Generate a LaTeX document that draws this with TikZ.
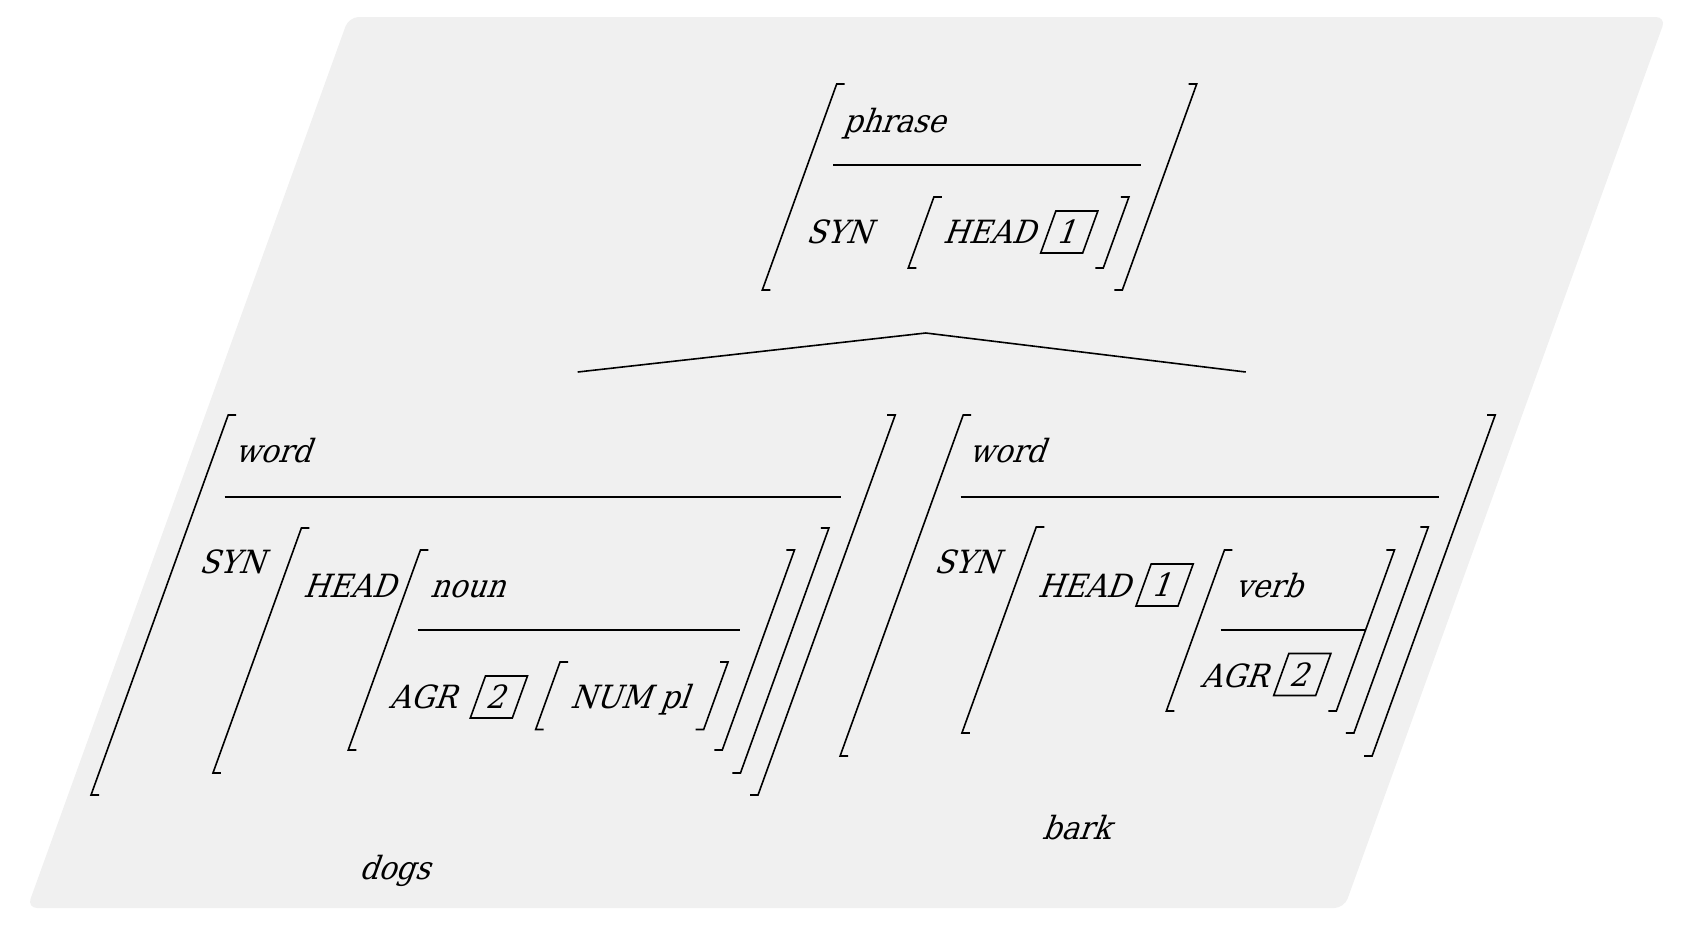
\documentclass[tikz,border=0pt]{standalone}
\usepackage{fontspec}
\setmainfont{DejaVu Serif}[FakeStretch=0.92]
\definecolor{bggray}{HTML}{F0F0F0}
\newcommand\avmfont{\fontsize{16pt}{19pt}\selectfont}
\newcommand\avmL[3]{\draw[brk] ({#1+8},#2) -- (#1,#2) -- (#1,#3) -- ({#1+8},#3);}
\newcommand\avmR[3]{\draw[brk] ({#1-8},#2) -- (#1,#2) -- (#1,#3) -- ({#1-8},#3);}
\tikzset{
  brk/.style={line width=0.8pt},
  rule/.style={line width=0.8pt},
  lbl/.style={inner sep=0pt, anchor=base west, font=\avmfont},
  leaf/.style={inner sep=0pt, anchor=base, font=\avmfont},
  tagbox/.style={draw, line width=0.8pt, minimum width=21pt, minimum height=21pt, inner sep=0pt, font=\avmfont},
}
\begin{document}
\begin{tikzpicture}[x=0.5pt,y=-0.5pt]
\useasboundingbox (0,0) rectangle (1690,927);
\begin{scope}[xslant=0.361, every node/.append style={transform shape}]
% background
\fill[bggray, rounded corners=5pt] (355,17) rectangle (1672,908);

% ---- top: phrase ----
\avmL{867}{84}{290}
\avmR{1227}{84}{290}
\node[lbl] (phrase) at (890,132) {phrase};
\draw[rule] (893,165) -- (1201,165);
\node[lbl] (synP) at (893,243) {SYN};
\avmL{1005}{197}{268}
\avmR{1200}{197}{268}
\node[lbl] (headP) at (1030,243) {HEAD};
\node[tagbox] (tagP1) at (1153,232) {1};

% ---- tree ----
\coordinate (apex) at (1046,333);
\coordinate (lroot) at (712,372);
\coordinate (rroot) at (1380,372);
\draw[rule] (lroot) -- (apex) -- (rroot);

% ---- left word ----
\avmL{378}{415}{795}
\avmR{1045}{415}{795}
\node[lbl] (wordL) at (401,462) {word};
\draw[rule] (404,497) -- (1020,497);
\node[lbl] (synL) at (405,573) {SYN};
\avmL{492}{528}{773}
\avmR{1019.5}{528}{773}
\node[lbl] (headL) at (518,597) {HEAD};
\avmL{619}{550}{750}
\avmR{993}{550}{750}
\node[lbl] (noun) at (645,597) {noun};
\draw[rule] (645,630) -- (967,630);
\node[lbl] (agrL) at (644,708) {AGR};
\node[tagbox] (tagL2) at (750.5,697) {2};
\avmL{799}{662}{729.5}
\avmR{967}{662}{729.5}
\node[lbl] (num) at (825,708) {NUM pl};
\node[leaf] (dogs) at (711.5,879) {dogs};

% ---- right word ----
\avmL{1113}{415}{756}
\avmR{1645}{415}{756}
\node[lbl] (wordR) at (1135,462) {word};
\draw[rule] (1140,497) -- (1618.5,497);
\node[lbl] (synR) at (1140,573) {SYN};
\avmL{1226.5}{527}{733}
\avmR{1618.5}{527}{733}
\node[lbl] (headR) at (1252.5,597) {HEAD};
\node[tagbox] (tagR1) at (1375.75,585) {1};
\avmL{1423}{550}{711}
\avmR{1593}{550}{711}
\node[lbl] (verb) at (1450,597) {verb};
\draw[rule] (1448,630) -- (1593,630);
\node[lbl] (agrR) at (1448,687) {AGR};
\node[tagbox] (tagR2) at (1545.75,674.5) {2};
\node[leaf] (bark) at (1379,839) {bark};
\end{scope}
\end{tikzpicture}
\end{document}
